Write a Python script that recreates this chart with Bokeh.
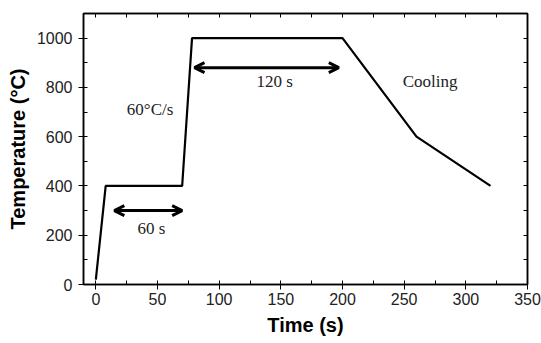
from bokeh.plotting import figure
from bokeh.models import (LinearAxis, SingleIntervalTicker, FixedTicker, Arrow, OpenHead, Range1d)
from bokeh.core.properties import value
from bokeh.embed import file_html
from bokeh.resources import INLINE

# Data
time_s = [0, 8, 70, 78, 200, 260, 320]
temp_c = [20, 400, 400, 1000, 1000, 600, 400]

arrow_x_start = [15, 80]
arrow_x_end = [70, 197]
arrow_y = [300, 880]

label_text = ["60 s", "120 s", "60°C/s", "Cooling"]
label_x = [45, 145, 44, 271]
label_y = [227, 822, 712, 822]

top_ticks = list(range(0, 351, 25))
right_ticks = list(range(0, 1101, 100))

p = figure(frame_width=444, frame_height=271, output_backend="svg", toolbar_location=None,
           x_range=Range1d(-10, 350), y_range=Range1d(0, 1100),
           min_border_left=83, min_border_right=14, min_border_top=13, min_border_bottom=55)
p.background_fill_color = "white"
p.border_fill_color = "white"
p.outline_line_color = "black"
p.outline_line_width = 1.5
p.grid.visible = False

# bottom axis
xa = p.xaxis[0]
xa.ticker = SingleIntervalTicker(interval=50, num_minor_ticks=2)
xa.axis_label = "Time (s)"
for ax in [xa, p.yaxis[0]]:
    ax.axis_label_text_font = "Liberation Sans"
    ax.axis_label_text_font_style = "bold"
    ax.axis_label_text_font_size = "20px"
    ax.axis_label_text_color = "black"
    ax.major_label_text_font = "Liberation Sans"
    ax.major_label_text_font_size = "16px"
    ax.major_label_text_color = "#222222"
    ax.axis_line_color = "black"
    ax.major_tick_line_color = "black"
    ax.minor_tick_line_color = "black"
    ax.major_tick_out = 5
    ax.major_tick_in = 0
    ax.minor_tick_out = 0
    ax.minor_tick_in = 4
    ax.axis_line_width = 1.5
xa.major_label_standoff = 3
xa.axis_label_standoff = 6

ya = p.yaxis[0]
ya.ticker = SingleIntervalTicker(interval=200, num_minor_ticks=2)
ya.axis_label = "Temperature (°C)"
ya.major_label_standoff = 6
ya.axis_label_standoff = 5

# top and right axes (ticks only, labels not drawn)
top = LinearAxis(ticker=FixedTicker(ticks=top_ticks),
                 major_label_text_font_size="1px", major_label_text_color=None,
                 major_label_standoff=0,
                 major_tick_in=4, major_tick_out=0, minor_tick_in=0, minor_tick_out=0,
                 axis_line_color="black", axis_line_width=1.5)
right = LinearAxis(ticker=FixedTicker(ticks=right_ticks),
                   major_label_text_font_size="1px", major_label_text_color=None,
                   major_label_standoff=0,
                   major_tick_in=4, major_tick_out=0, minor_tick_in=0, minor_tick_out=0,
                   axis_line_color="black", axis_line_width=1.5)
p.add_layout(top, "above")
p.add_layout(right, "right")

p.line(time_s, temp_c, line_color="black", line_width=2.2)

for xs, xe, yy in zip(arrow_x_start, arrow_x_end, arrow_y):
    p.add_layout(Arrow(x_start=xs, y_start=yy, x_end=xe, y_end=yy,
                       line_color="black", line_width=3,
                       start=OpenHead(size=10, line_width=3, line_color="black"),
                       end=OpenHead(size=10, line_width=3, line_color="black")))

p.text(x=label_x, y=label_y, text=label_text, text_font=value("Liberation Serif"),
       text_font_size="17px", text_color="#222222", text_align="center", text_baseline="middle")

open("out.html", "w").write(file_html(p, INLINE))
